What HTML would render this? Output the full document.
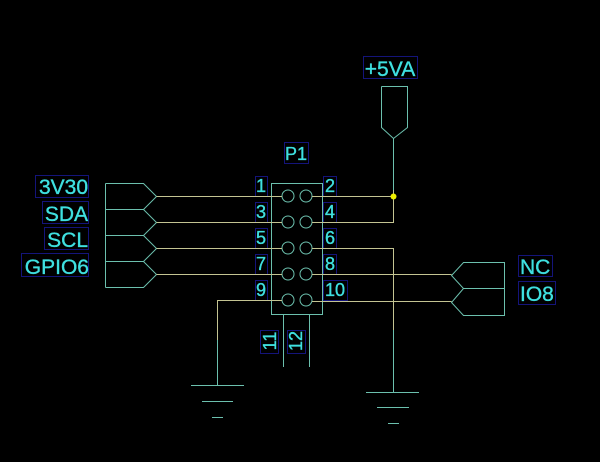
<!DOCTYPE html>
<html><head><meta charset="utf-8"><style>
html,body{margin:0;padding:0;background:#000;}
svg{display:block;}
text{font-family:"Liberation Sans",sans-serif;fill:#3fe0e0;stroke:#3fe0e0;stroke-width:0.35;}
</style></head><body>
<svg width="600" height="462" viewBox="0 0 600 462" xmlns="http://www.w3.org/2000/svg">
<rect width="600" height="462" fill="#000"/>
<!-- label boxes -->
<g fill="#000" stroke="#14147a" stroke-width="1">
<rect x="35.5" y="175.5" width="53" height="22"/>
<rect x="42.5" y="201.5" width="46" height="22"/>
<rect x="44.5" y="227.5" width="44" height="22"/>
<rect x="21.5" y="253.5" width="67" height="23"/>
<rect x="363.5" y="56.5" width="54" height="22"/>
<rect x="284.5" y="142.5" width="24" height="21"/>
<rect x="518.5" y="255.5" width="34" height="21"/>
<rect x="518.5" y="281.5" width="37" height="23"/>
<!-- pin boxes left -->
<rect x="255.5" y="176.5" width="12" height="20"/>
<rect x="255.5" y="202.5" width="12" height="20"/>
<rect x="255.5" y="228.5" width="12" height="20"/>
<rect x="255.5" y="254.5" width="12" height="20"/>
<rect x="255.5" y="280.5" width="12" height="20"/>
<!-- pin boxes right -->
<rect x="323.5" y="176.5" width="13" height="20"/>
<rect x="323.5" y="202.5" width="13" height="20"/>
<rect x="323.5" y="228.5" width="13" height="20"/>
<rect x="323.5" y="254.5" width="13" height="20"/>
<rect x="323.5" y="280.5" width="24" height="20"/>
<rect x="260.5" y="330.5" width="18" height="23"/>
<rect x="287.5" y="330.5" width="18" height="23"/>
</g>
<!-- port shapes -->
<g fill="none" stroke="#6cc0ae" stroke-width="1">
<line x1="105.5" y1="183.5" x2="105.5" y2="287.5"/>
<polyline points="105.5,183.5 143.5,183.5 156.5,196.5 143.5,209.5 105.5,209.5"/>
<polyline points="105.5,209.5 143.5,209.5 156.5,222.5 143.5,235.5 105.5,235.5"/>
<polyline points="105.5,235.5 143.5,235.5 156.5,248.5 143.5,261.5 105.5,261.5"/>
<polyline points="105.5,261.5 143.5,261.5 156.5,274.5 143.5,287.5 105.5,287.5"/>
<polygon points="463.5,262.5 504.5,262.5 504.5,315.5 463.5,315.5 451.5,302.5 463.5,288.5 451.5,275.5"/>
<line x1="463.5" y1="288.5" x2="504.5" y2="288.5"/>
<polyline points="381.5,86.5 407.5,86.5 407.5,127.5 393.5,138.5 381.5,127.5 381.5,86.5"/>
<!-- connector body -->
<rect x="271.5" y="183.5" width="51" height="131"/>
<circle cx="288" cy="196" r="6"/><circle cx="306" cy="196" r="6"/>
<circle cx="288" cy="222" r="6"/><circle cx="306" cy="222" r="6"/>
<circle cx="288" cy="248" r="6"/><circle cx="306" cy="248" r="6"/>
<circle cx="288" cy="274" r="6"/><circle cx="306" cy="274" r="6"/>
<circle cx="288" cy="300" r="6"/><circle cx="306" cy="300" r="6"/>
<line x1="283.5" y1="314.5" x2="283.5" y2="367"/>
<line x1="309.5" y1="314.5" x2="309.5" y2="367"/>
<!-- grounds -->
<line x1="191" y1="385.5" x2="244" y2="385.5"/>
<line x1="202" y1="401.5" x2="233" y2="401.5"/>
<line x1="212" y1="417.5" x2="223" y2="417.5"/>
<line x1="366" y1="392.5" x2="419" y2="392.5"/>
<line x1="377" y1="407.5" x2="409" y2="407.5"/>
<line x1="388" y1="423.5" x2="399" y2="423.5"/>
<line x1="217.5" y1="340" x2="217.5" y2="385.5"/>
<line x1="393.5" y1="330" x2="393.5" y2="392.5"/>
<line x1="393.5" y1="138.5" x2="393.5" y2="190"/>
</g>
<!-- wires -->
<g fill="none" stroke="#c4c492" stroke-width="1">
<line x1="156.5" y1="196.5" x2="282" y2="196.5"/>
<line x1="156.5" y1="222.5" x2="282" y2="222.5"/>
<line x1="156.5" y1="248.5" x2="282" y2="248.5"/>
<line x1="156.5" y1="274.5" x2="282" y2="274.5"/>
<polyline points="282,300.5 217.5,300.5 217.5,340"/>
<line x1="312" y1="196.5" x2="393.5" y2="196.5"/>
<polyline points="312,222.5 393.5,222.5 393.5,190"/>
<polyline points="312,248.5 393.5,248.5 393.5,330"/>
<line x1="312" y1="274.5" x2="451.5" y2="274.5"/>
<line x1="312" y1="301.5" x2="451.5" y2="301.5"/>
</g>
<circle cx="393.5" cy="196.5" r="3" fill="#f0f000"/>
<!-- labels -->
<g font-size="21" text-anchor="end">
<text x="88" y="194">3V30</text>
<text x="88" y="221">SDA</text>
<text x="88" y="247">SCL</text>
<text x="89" y="274">GPIO6</text>
</g>
<text x="390" y="76" font-size="21" text-anchor="middle">+5VA</text>
<text x="520" y="274" font-size="21">NC</text>
<text x="520" y="301" font-size="21">IO8</text>
<g font-size="18">
<text x="296" y="160" text-anchor="middle">P1</text>
<text x="256" y="192">1</text>
<text x="256" y="218">3</text>
<text x="256" y="244">5</text>
<text x="256" y="270">7</text>
<text x="256" y="296">9</text>
<text x="325" y="192">2</text>
<text x="325" y="218">4</text>
<text x="325" y="244">6</text>
<text x="325" y="270">8</text>
<text x="325" y="296">10</text>
<text x="0" y="0" text-anchor="middle" transform="translate(276,341) rotate(-90)">11</text>
<text x="0" y="0" text-anchor="middle" transform="translate(302,341) rotate(-90)">12</text>
</g>
</svg>
</body></html>
